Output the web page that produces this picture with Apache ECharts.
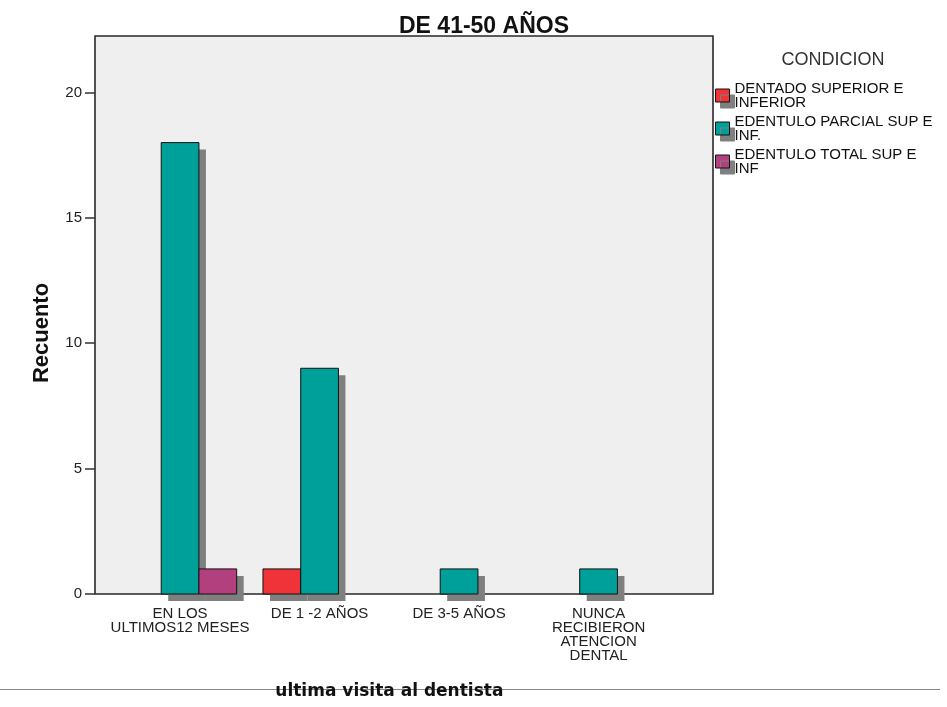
<!DOCTYPE html>
<html><head><meta charset="utf-8">
<script src="https://cdn.jsdelivr.net/npm/echarts@6/dist/echarts.min.js"></script>
<style>html,body{margin:0;padding:0;background:#fff}#c{width:947px;height:707px}</style>
</head><body><div id="c"></div>
<script>
const categories = ['EN LOS\nULTIMOS12 MESES', 'DE 1 -2 AÑOS', 'DE 3-5 AÑOS', 'NUNCA\nRECIBIERON\nATENCION\nDENTAL'];
const seriesNames = ['DENTADO SUPERIOR E INFERIOR', 'EDENTULO PARCIAL SUP E INF.', 'EDENTULO TOTAL SUP E INF'];
const legendLabels = ['DENTADO SUPERIOR E\nINFERIOR', 'EDENTULO PARCIAL SUP E\nINF.', 'EDENTULO TOTAL SUP E\nINF'];
const dentado = [null, 1, null, null];
const parcial = [18, 9, 1, 1];
const total = [1, null, null, null];
const colors = ['#EF3339', '#00A09A', '#B2407F'];
const yTicks = [0, 5, 10, 15, 20];

const chart = echarts.init(document.getElementById('c'));
const F = 'Arial, "Liberation Sans", sans-serif';
const data = [dentado, parcial, total];
const BAR_FRAC = 0.2705;   // bar width as a share of the category band
const SH = 7;              // drop-shadow offset (px)

function makeRender(si) {
  return function (params, api) {
    const v = api.value(1);
    if (v == null || isNaN(v)) return null;
    const ci = api.value(0);
    const band = api.size([1, 0])[0];
    const w = band * BAR_FRAC;
    const top = api.coord([ci, v]);
    const base = api.coord([ci, 0]);
    const x = top[0] + (si - 1) * w - w / 2;
    const h = base[1] - top[1];
    return {
      type: 'group',
      children: [
        {type: 'rect', shape: {x: x + SH, y: top[1] + SH, width: w, height: h}, style: {fill: '#7f7f7f'}},
        {type: 'rect', shape: {x: x, y: top[1], width: w, height: h},
         style: {fill: colors[si], stroke: '#111', lineWidth: 1}}
      ]
    };
  };
}

chart.setOption({
  animation:false,
  backgroundColor:'#fff',
  title:[
    {text:'DE 41-50 AÑOS', left:479, top:10, textAlign:'center', textStyle:{fontFamily:F, fontWeight:'bold', fontSize:23, color:'#111'}},
    {text:'CONDICION', left:828, top:46, textAlign:'center', textStyle:{fontFamily:F, fontWeight:'normal', fontSize:18, color:'#333'}}
  ],
  legend:{
    orient:'vertical', left:715, top:81, padding:0, itemWidth:14, itemHeight:13, itemGap:4, icon:'rect',
    data:seriesNames,
    formatter:function(n){return legendLabels[seriesNames.indexOf(n)];},
    textStyle:{fontFamily:F, fontSize:15, color:'#111', lineHeight:14},
    itemStyle:{borderColor:'#111', borderWidth:1, shadowColor:'#7f7f7f', shadowBlur:0, shadowOffsetX:5, shadowOffsetY:6}
  },
  graphic:[
    {type:'rect', z:-1, shape:{x:95, y:36, width:618, height:558}, style:{fill:'#efefef', stroke:'#2a2a2a', lineWidth:1.6}},
    {type:'line', z:-1, shape:{x1:0, y1:689.5, x2:940, y2:689.5}, style:{stroke:'#888', lineWidth:1}}
  ],
  grid:{left:110.33, right:278.67, top:36, bottom:113, containLabel:false},
  xAxis:{
    type:'category', data:categories,
    name:'ultima visita al dentista', nameLocation:'middle', nameGap:89,
    nameTextStyle:{fontFamily:'"DejaVu Sans", sans-serif', fontWeight:'bold', fontSize:17, color:'#111'},
    axisLine:{show:false},
    axisTick:{show:true, alignWithLabel:true, length:4, lineStyle:{color:'#444'}},
    axisLabel:{fontFamily:F, fontSize:15, color:'#222', lineHeight:14, margin:13, interval:0}
  },
  yAxis:{
    type:'value', min:0, max:22.25, interval:5, offset:15.33,
    name:'Recuento', nameLocation:'middle', nameGap:42, nameRotate:90,
    nameTextStyle:{fontFamily:F, fontWeight:'bold', fontSize:22, color:'#111', padding:[0,36,0,0]},
    axisLine:{show:false},
    axisTick:{show:true, length:10, lineStyle:{color:'#333', width:1.5}, customValues:yTicks},
    axisLabel:{fontFamily:F, fontSize:15, color:'#222', margin:13, customValues:yTicks},
    splitLine:{show:false}
  },
  series:seriesNames.map((n,i)=>({
    name:n, type:'custom', renderItem:makeRender(i),
    data:data[i].map((v,ci)=>[ci, v == null ? NaN : v]),
    encode:{x:0, y:1},
    itemStyle:{color:colors[i]}
  }))
});
</script></body></html>
